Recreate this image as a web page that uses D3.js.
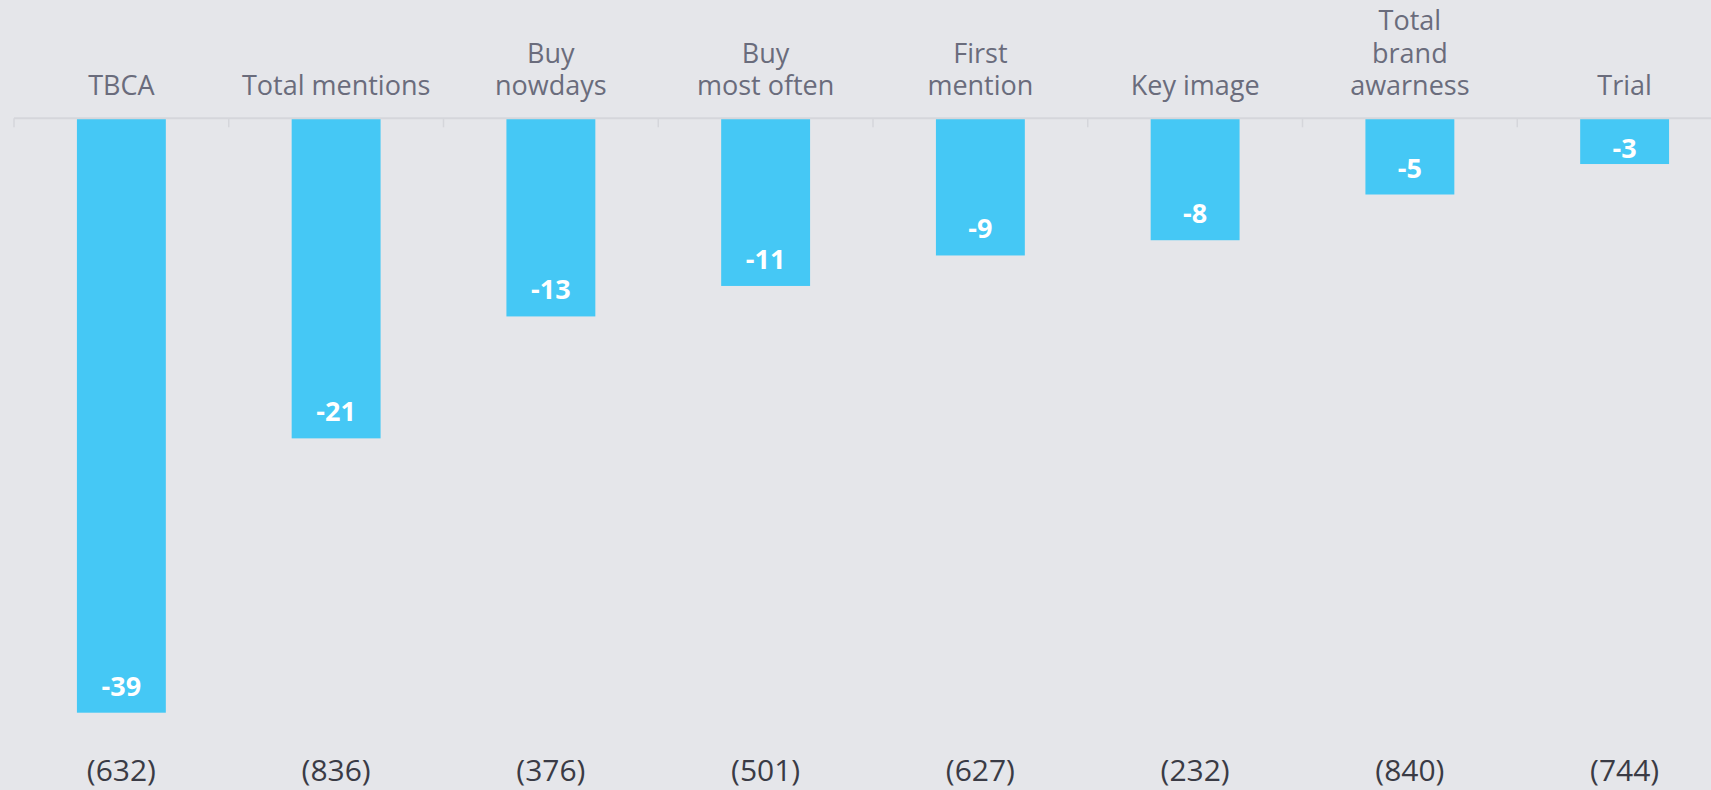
<!DOCTYPE html>
<html>
<head>
<meta charset="utf-8">
<script src="https://cdn.jsdelivr.net/npm/d3@7"></script>
<style>
  html, body { margin: 0; padding: 0; background: #e5e6ea; overflow: hidden; }
  svg { display: block; font-family: "Open Sans", "Noto Sans", sans-serif; }
</style>
</head>
<body>
<svg id="chart" width="1711" height="790"></svg>
<script>
const categories = ["TBCA", "Total mentions", "Buy\nnowdays", "Buy\nmost often", "First\nmention", "Key image", "Total\nbrand\nawarness", "Trial"];
const values = [-39, -21, -13, -11, -9, -8, -5, -3];
const baseLabels = ["(632)", "(836)", "(376)", "(501)", "(627)", "(232)", "(840)", "(744)"];

const svg = d3.select("#chart");
const W = 1711, H = 790;

svg.append("rect").attr("width", W).attr("height", H).attr("fill", "#e5e6ea");

const bandStart = 14, bandW = 214.75;
const x = d3.scaleBand()
  .domain(categories)
  .range([bandStart, bandStart + bandW * categories.length])
  .paddingInner(0).paddingOuter(0);

const y = d3.scaleLinear().domain([-39, 0]).range([712.7, 118.3]);

const barPad = 0.293;
const barW = x.bandwidth() * (1 - 2 * barPad);

// bars
svg.append("g").selectAll("rect")
  .data(values)
  .join("rect")
  .attr("x", (d, i) => x(categories[i]) + x.bandwidth() * barPad)
  .attr("y", y(0))
  .attr("width", barW)
  .attr("height", d => y(d) - y(0))
  .attr("fill", "#45c8f5");

// axis line + ticks (between categories)
const axisG = svg.append("g");
axisG.append("line")
  .attr("x1", bandStart).attr("x2", W)
  .attr("y1", y(0)).attr("y2", y(0))
  .attr("stroke", "#d5d6db").attr("stroke-width", 2);
const tickPos = categories.map(c => x(c)).concat([x(categories[categories.length - 1]) + x.bandwidth()]);
axisG.selectAll("line.tick")
  .data(tickPos)
  .join("line")
  .attr("class", "tick")
  .attr("x1", d => d).attr("x2", d => d)
  .attr("y1", y(0)).attr("y2", y(0) + 9)
  .attr("stroke", "#d5d6db").attr("stroke-width", 1.5);

// category labels (top)
const lineH = 32.5;
const catG = svg.append("g");
categories.forEach((c, i) => {
  const lines = c.split("\n");
  const t = catG.append("text")
    .attr("text-anchor", "middle")
    .attr("font-size", 27)
    .attr("fill", "#6a6c7c");
  lines.forEach((ln, j) => {
    t.append("tspan")
      .attr("x", x(c) + x.bandwidth() / 2)
      .attr("y", 95 - (lines.length - 1 - j) * lineH)
      .text(ln);
  });
});

// value labels inside bars
svg.append("g").selectAll("text")
  .data(values)
  .join("text")
  .attr("x", (d, i) => x(categories[i]) + x.bandwidth() / 2)
  .attr("y", d => Math.max(y(d) - 17, y(0) + 40))
  .attr("text-anchor", "middle")
  .attr("font-size", 27)
  .attr("font-weight", "bold")
  .attr("fill", "#ffffff")
  .text(d => d);

// base labels (bottom)
svg.append("g").selectAll("text")
  .data(baseLabels)
  .join("text")
  .attr("x", (d, i) => x(categories[i]) + x.bandwidth() / 2)
  .attr("y", 781)
  .attr("text-anchor", "middle")
  .attr("font-size", 30)
  .attr("fill", "#3a3b45")
  .text(d => d);
</script>
</body>
</html>
